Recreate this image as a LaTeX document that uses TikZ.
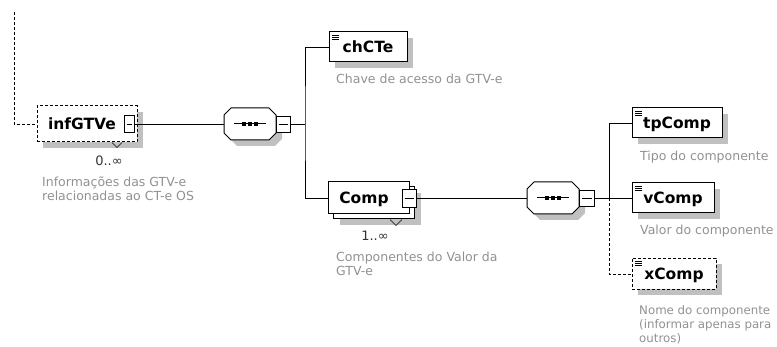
\documentclass[tikz,border=0pt]{standalone}
\usepackage{fontspec}
\setmainfont{DejaVu Sans}
\usetikzlibrary{shadows}
\definecolor{descgray}{RGB}{145,145,145}
\definecolor{shadowgray}{RGB}{192,192,192}
\tikzset{
  box/.style={draw, fill=white, line width=1pt, inner sep=0pt,
    font=\bfseries\fontsize{15.5}{17}\selectfont, text height=11pt, text depth=0pt},
  withshadow/.style={drop shadow={shadow xshift=6pt, shadow yshift=-6pt,
    fill=shadowgray, opacity=1}},
  elem/.style={box, withshadow, minimum height=30pt},
  simple/.style={path picture={
    \foreach \k in {3pt,5pt,7pt}
      \draw[solid, line width=0.7pt] ([xshift=3pt, yshift=-\k]path picture bounding box.north west) -- ++(7pt,0);}},
  optional/.style={dash pattern=on 3pt off 2pt},
  minusbox/.style={draw, fill=white, line width=0.9pt, inner sep=0pt,
    minimum width=14pt, minimum height=16pt, path picture={
    \draw[line width=0.8pt] ([xshift=2.5pt]path picture bounding box.west)
      -- ([xshift=-2.5pt]path picture bounding box.east);}},
  seqnode/.style={inner sep=0pt, minimum width=52pt, minimum height=32pt},
  seqoct/.pic={
    \fill[shadowgray, shift={(6,6)}] (-19,-16) -- (19,-16) -- (26,-9) -- (26,9)
      -- (19,16) -- (-19,16) -- (-26,9) -- (-26,-9) -- cycle;
    \draw[fill=white, line width=1pt] (-19,-16) -- (19,-16) -- (26,-9) -- (26,9)
      -- (19,16) -- (-19,16) -- (-26,9) -- (-26,-9) -- cycle;
    \draw[line width=1pt] (-16,0) -- (16,0);
    \foreach \d in {-6,0,6}
      \fill[black] (\d-2,-2) rectangle (\d+2,2);
  },
  desc/.style={anchor=north west, inner sep=0pt, align=left, text=descgray,
    font=\fontsize{12.5}{14}\selectfont},
  occ/.style={inner sep=0pt, text=black!80, font=\fontsize{13}{15}\selectfont},
  conn/.style={line width=0.8pt}
}
\begin{document}
\begin{tikzpicture}[x=1pt, y=-1pt]
  \useasboundingbox (0,0) rectangle (777,347);

  % Phần tử infGTVe
  \node[elem, optional, minimum width=100pt, minimum height=36pt] (infGTVe) at (87,124) {\hspace*{-10pt}infGTVe};
  \node[minusbox, minimum width=10pt, minimum height=17pt] (infGTVe-m) at (129,124) {};
  \draw[line width=0.6pt] ([xshift=25pt]infGTVe.south) -- ++(5,5) -- ++(5,-5);
  \node[occ] (infGTVe-occ) at (109,161) {0..∞};
  \node[desc] (infGTVe-desc) at (42,177) {Informações das GTV-e\\relacionadas ao CT-e OS};
  \coordinate (parent) at (14,12);
  \draw[conn, optional] (parent) |- (infGTVe.west);

  % Sequência 1
  \pic at (250,124) {seqoct};
  \node[seqnode] (seq1) at (250,124) {};
  \node[minusbox] (seq1-m) at (283,124) {};
  \draw[conn] (infGTVe-m.east) -- (seq1.west);
  \coordinate (bus1) at (305,124);
  \draw[conn] (seq1-m.east) -- (bus1);

  % chCTe
  \node[elem, simple, minimum width=78pt] (chCTe) at (368,47) {chCTe};
  \node[desc] (chCTe-desc) at (336,74) {Chave de acesso da GTV-e};

  % Comp (nhiều lần)
  \node[box, withshadow, minimum width=81pt, minimum height=32pt] (Comp-back) at (374,203) {};
  \node[box, minimum width=81pt, minimum height=32pt] (Comp) at (369,198) {\hspace*{-10pt}Comp};
  \node[minusbox, minimum height=18pt] (Comp-m) at (409,198) {};
  \draw[line width=0.6pt] ([xshift=16pt]Comp-back.south) -- ++(6,6) -- ++(6,-6);
  \node[occ] (Comp-occ) at (375,236) {1..∞};
  \node[desc] (Comp-desc) at (336,252) {Componentes do Valor da\\GTV-e};
  \draw[conn] (chCTe.west) -| (bus1) |- (Comp.west);

  % Sequência 2
  \pic at (553,198) {seqoct};
  \node[seqnode] (seq2) at (553,198) {};
  \node[minusbox, minimum width=15pt] (seq2-m) at (587,198) {};
  \draw[conn] (Comp-m.east) -- (seq2.west);
  \coordinate (bus2) at (609,198);
  \draw[conn] (seq2-m.east) -- (bus2);

  % tpComp, vComp, xComp
  \node[elem, simple, minimum width=90pt] (tpComp) at (677,123) {tpComp};
  \node[desc] (tpComp-desc) at (640,151) {Tipo do componente};
  \node[elem, simple, minimum width=82pt] (vComp) at (673,198) {vComp};
  \node[desc] (vComp-desc) at (640,225) {Valor do componente};
  \node[elem, simple, optional, minimum width=84pt, minimum height=31pt] (xComp) at (674,274) {xComp};
  \node[desc, font=\fontsize{11.8}{14}\selectfont] (xComp-desc) at (639,305) {Nome do componente\\(informar apenas para\\outros)};
  \draw[conn] (tpComp.west) -| (bus2) -- (vComp.west);
  \draw[conn, optional] (bus2) |- (xComp.west);
\end{tikzpicture}
\end{document}
